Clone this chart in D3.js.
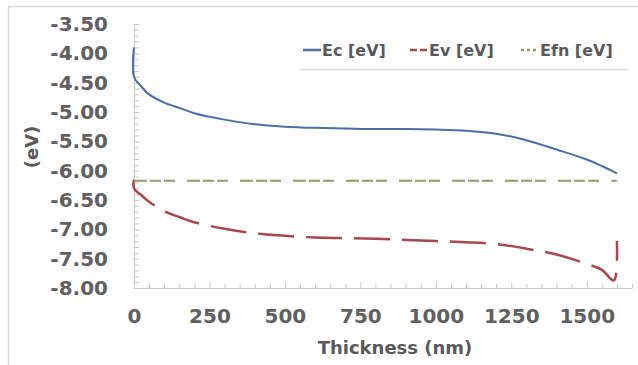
<!DOCTYPE html>
<html>
<head>
<meta charset="utf-8">
<script src="https://cdn.jsdelivr.net/npm/d3@7"></script>
<style>
  body { margin: 0; background: #fff; }
  svg { display: block; font-family: 'DejaVu Sans', sans-serif; }
  .axis-title { font-size: 18px; font-weight: bold; fill: #595959; }
  .legend-text { font-size: 16px; font-weight: bold; fill: #595959; }
</style>
</head>
<body>
<svg id="chart" width="638" height="365"></svg>
<script>
// data
const thickness = [0, 0, 25, 50, 100, 150, 200, 300, 400, 500, 600, 700, 800, 900, 1000, 1100, 1200, 1300, 1400, 1500, 1550, 1590, 1600]
const ec = [-3.90, -4.40, -4.57, -4.70, -4.84, -4.93, -5.02, -5.13, -5.21, -5.25, -5.27, -5.28, -5.29, -5.29, -5.30, -5.32, -5.37, -5.48, -5.64, -5.81, -5.92, -6.02, -6.05]
const ev = [-6.15, -6.30, -6.42, -6.53, -6.69, -6.79, -6.88, -6.99, -7.07, -7.11, -7.14, -7.15, -7.16, -7.18, -7.20, -7.22, -7.25, -7.33, -7.43, -7.59, -7.69, -7.87, -7.20]
const efn = [-6.17, -6.17, -6.17, -6.17, -6.17, -6.17, -6.17, -6.17, -6.17, -6.17, -6.17, -6.17, -6.17, -6.17, -6.17, -6.17, -6.17, -6.17, -6.17, -6.17, -6.17, -6.17, -6.17]
const xTicks = [0, 250, 500, 750, 1000, 1250, 1500]
const yTicks = [-3.5, -4.0, -4.5, -5.0, -5.5, -6.0, -6.5, -7.0, -7.5, -8.0]
const seriesNames = ['Ec [eV]', 'Ev [eV]', 'Efn [eV]']

const COLORS = ['#4a6fa5', '#a8474d', '#8f9e62']
const DASHES = [null, '36,12', '13,3,11,3,11,12']
const WIDTHS = [2, 2.5, 2]

let svg = d3.select('#chart')
let xScale = d3.scaleLinear().domain([0, 1650]).range([134, 632])
let yScale = d3.scaleLinear().domain([-8, -3.5]).range([288, 24])

let styleTicks = function (g) {
  g.select('.domain').remove()
  g.selectAll('.tick text')
    .style('font-family', "'DejaVu Sans', sans-serif")
    .style('font-size', '20px')
    .style('font-weight', 'bold')
    .style('fill', '#606060')
}

// frame
svg.append('line').attr('x1', 8.5).attr('x2', 8.5).attr('y1', 6).attr('y2', 365)
  .attr('stroke', '#d9d9d9').attr('stroke-width', 1.5)
svg.append('line').attr('x1', 8).attr('x2', 638).attr('y1', 6.5).attr('y2', 6.5)
  .attr('stroke', '#d9d9d9').attr('stroke-width', 1.5)

// y axis: labels, then minor ticks pointing in
let yg = svg.append('g').attr('transform', 'translate(134,0)')
yg.call(d3.axisLeft(yScale).tickValues(yTicks).tickSize(0).tickPadding(26)
  .tickFormat(d => d.toFixed(2)))
yg.call(styleTicks)

let minorY = d3.range(-80, -34).map(v => v / 10)
let ym = svg.append('g').attr('transform', 'translate(134,0)')
ym.call(d3.axisRight(yScale).tickValues(minorY).tickSize(5).tickFormat(''))
ym.select('.domain').attr('stroke', '#c8c8c8')
ym.selectAll('line').attr('stroke', '#c8c8c8')

// x axis
let xg = svg.append('g').attr('transform', 'translate(0,288)')
xg.call(d3.axisBottom(xScale).tickValues(xTicks).tickSize(0).tickPadding(21)
  .tickFormat(d => String(d)))
xg.call(styleTicks)

let minorX = d3.range(0, 1651, 50)
let xm = svg.append('g').attr('transform', 'translate(0,288)')
xm.call(d3.axisTop(xScale).tickValues(minorX).tickSize(4).tickSizeOuter(0).tickFormat(''))
xm.select('.domain').attr('stroke', '#c8c8c8')
xm.selectAll('line').attr('stroke', '#c8c8c8')
  .attr('y2', d => d % 250 === 0 ? -6 : -4)

// axis titles
svg.append('text').classed('axis-title', true)
  .attr('x', 395).attr('y', 354).attr('text-anchor', 'middle')
  .text('Thickness (nm)')
svg.append('text').classed('axis-title', true)
  .attr('transform', 'translate(38,147) rotate(-90)')
  .attr('text-anchor', 'middle')
  .text('(eV)')

// series
let lineGenerator = d3.line()
  .x((d, i) => xScale(thickness[i]))
  .y(d => yScale(d))
  .curve(d3.curveCatmullRom.alpha(0.5))
let chart = svg.append('g').classed('chart', true)
;[ec, ev, efn].forEach((vals, k) => {
  chart.append('path')
    .attr('d', lineGenerator(vals))
    .attr('fill', 'none')
    .attr('stroke', COLORS[k])
    .attr('stroke-width', WIDTHS[k])
    .attr('stroke-dasharray', DASHES[k])
})

// legend
svg.append('line').attr('x1', 300).attr('x2', 628).attr('y1', 69.5).attr('y2', 69.5)
  .attr('stroke', '#d9d9d9').attr('stroke-width', 1.5)
const legendX = [303, 410, 521]
const legendDash = [null, '7,3', '3,3']
seriesNames.forEach((name, k) => {
  let g = svg.append('g').attr('transform', `translate(${legendX[k]},50)`)
  g.append('line').attr('x1', 0).attr('x2', 18)
    .attr('stroke', COLORS[k]).attr('stroke-width', 2.5)
    .attr('stroke-dasharray', legendDash[k])
  g.append('text').classed('legend-text', true)
    .attr('x', 19).attr('y', 6).text(name)
})
</script>
</body>
</html>
